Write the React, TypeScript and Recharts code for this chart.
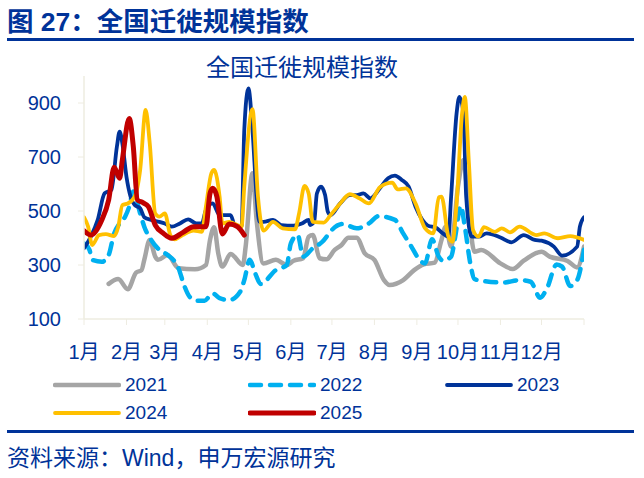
import React from "react";
import { LineChart, Line, XAxis, YAxis } from "recharts";

const INK = "#003399";
const SANS = "'Liberation Sans','Noto Sans CJK SC',sans-serif";

const monthTicks = [0, 31, 59, 90, 120, 151, 181, 212, 243, 273, 304, 334, 365];
const monthLabels = ["1月", "2月", "3月", "4月", "5月", "6月", "7月", "8月", "9月", "10月", "11月", "12月", ""];
const valueTicks = [100, 300, 500, 700, 900];

const days2021 = [18,25,32,38,42,44,48,52,54,61,69,81,89,92,95,98,101,107,116,118,123,126,131,140,148,153,160,164,167,172,177,183,188,193,199,205,212,219,223,233,241,248,256,261,264,268,273,277,281,285,290,304,313,321,334,340,353,360,365];
const values2021 = [230,248,210,272,281,319,393,331,319,337,288,284,300,393,440,343,294,341,300,368,640,467,306,319,300,316,325,405,411,325,321,356,374,401,401,343,319,244,226,244,281,302,309,393,442,368,590,689,491,349,356,306,285,316,349,331,315,291,368];

const days2022 = [0,4,6,13,18,22,26,30,33,36,41,44,49,55,61,69,73,77,82,88,94,99,106,114,117,121,125,129,140,148,151,156,160,167,174,178,181,189,199,208,215,227,233,239,245,249,254,259,262,268,271,275,278,282,285,291,306,318,326,333,338,345,349,355,360,365];
const values2022 = [380,356,319,312,337,417,454,479,516,572,491,442,393,356,337,288,226,183,168,168,195,177,170,201,244,319,269,230,281,300,380,411,331,362,386,411,430,452,436,454,481,467,417,368,319,306,395,331,316,331,405,519,442,306,248,241,235,244,238,179,214,302,294,222,244,356];

const days2023 = [0,5,10,15,20,24,26,28,31,34,37,41,44,49,55,59,64,70,76,82,86,89,94,99,107,110,115,117,120,123,126,128,131,138,144,153,159,164,165,168,170,173,176,178,180,187,194,199,204,209,216,222,227,232,237,242,247,251,257,262,266,268,272,274,277,279,283,288,294,304,312,321,329,334,343,349,360,362,365];
const values2023 = [362,405,467,565,578,738,794,750,627,553,522,510,477,467,460,454,442,454,469,454,454,504,528,485,485,448,442,800,954,800,553,460,460,467,448,446,454,467,448,460,565,590,559,497,485,528,559,559,565,547,584,621,631,615,590,516,467,446,438,417,405,553,862,923,862,553,405,405,417,402,384,411,393,390,368,335,368,442,477];

const days2024 = [0,3,6,11,16,22,25,28,32,37,41,45,48,52,55,59,63,66,72,80,86,89,93,95,99,101,106,115,117,123,127,131,138,145,154,157,161,164,167,175,180,187,194,201,208,216,225,229,235,242,249,255,259,261,266,269,272,276,278,281,284,288,292,300,305,311,318,330,336,346,355,365];
const values2024 = [477,442,374,411,414,407,442,522,528,553,652,874,750,491,479,491,411,395,411,427,423,516,640,652,553,454,460,442,590,877,553,427,460,436,432,491,593,565,460,457,485,528,562,547,528,588,605,580,584,528,436,417,551,553,405,386,528,862,923,676,430,405,440,423,436,421,442,411,417,399,407,393];

const days2025 = [0,5,13,18,22,26,28,33,36,39,43,47,52,58,64,72,80,89,92,94,97,101,106,112,117];
const values2025 = [427,411,467,541,662,621,689,843,738,541,531,516,448,417,399,420,442,442,565,584,553,415,452,442,411];

const toRows = (days: number[], values: number[]) => days.map((day, i) => ({ day, value: values[i] }));

const series = [
  { name: "2021", rows: toRows(days2021, values2021), color: "#A5A5A5", width: 4.5 },
  { name: "2022", rows: toRows(days2022, values2022), color: "#00B0F0", width: 4.5, dash: "11 9" },
  { name: "2023", rows: toRows(days2023, values2023), color: "#003399", width: 3.8 },
  { name: "2024", rows: toRows(days2024, values2024), color: "#FFC000", width: 3.8 },
  { name: "2025", rows: toRows(days2025, values2025), color: "#C00000", width: 5 },
];

const legendSpots: Record<string, { left: number; top: number }> = {
  "2021": { left: 53, top: 385 },
  "2022": { left: 248, top: 385 },
  "2023": { left: 445, top: 385 },
  "2024": { left: 53, top: 413 },
  "2025": { left: 248, top: 413 },
};

const abs = (s: React.CSSProperties): React.CSSProperties => ({ position: "absolute", whiteSpace: "nowrap", fontFamily: SANS, color: INK, ...s });

export default function App() {
  return (
    <div style={{ position: "absolute", left: 0, top: 0, width: 644, height: 478, background: "#fff", overflow: "hidden" }}>
      <div style={abs({ left: 7, top: 6, fontSize: 26.5, lineHeight: "32px", fontWeight: 700 })}>图 27：全国迁徙规模指数</div>
      <div style={abs({ left: 7, top: 38, width: 627, height: 3, background: INK })} />
      <div style={abs({ left: 0, top: 53, width: 604, textAlign: "center", fontSize: 24, lineHeight: "30px" })}>全国迁徙规模指数</div>
      <div style={{ position: "absolute", left: 0, top: 0 }}>
        <LineChart width={644} height={478} margin={{ left: 44, right: 60, top: 76, bottom: 119 }}>
          <XAxis
            type="number"
            dataKey="day"
            domain={[0, 365]}
            ticks={monthTicks}
            interval={0}
            allowDataOverflow
            height={40}
            tickFormatter={(v: number) => monthLabels[monthTicks.indexOf(v)]}
            tick={{ fill: INK, fontSize: 20, fontFamily: SANS }}
            tickLine={{ stroke: "#EEECE1" }}
            axisLine={{ stroke: "#EEECE1", strokeWidth: 1.5 }}
            tickSize={6}
            tickMargin={20}
          />
          <YAxis
            type="number"
            domain={[100, 1000]}
            ticks={valueTicks}
            interval={0}
            width={40}
            tick={{ fill: INK, fontSize: 20, fontFamily: SANS }}
            tickLine={{ stroke: "#EEECE1" }}
            axisLine={{ stroke: "#EEECE1", strokeWidth: 1.5 }}
            tickSize={6}
            tickMargin={17}
          />
          {series.map((s) => (
            <Line
              key={s.name}
              data={s.rows}
              dataKey="value"
              name={s.name}
              type="monotone"
              stroke={s.color}
              strokeWidth={s.width}
              strokeDasharray={s.dash}
              strokeLinecap="round"
              strokeLinejoin="round"
              dot={false}
              activeDot={false}
              isAnimationActive={false}
            />
          ))}
        </LineChart>
      </div>
      {series.map((s) => {
        const p = legendSpots[s.name];
        return (
          <div key={s.name} style={{ position: "absolute", left: p.left, top: p.top - 12, height: 24 }}>
            <svg width={68} height={24} style={{ position: "absolute", left: 0, top: 0 }}>
              <line x1={2} x2={66} y1={12} y2={12} stroke={s.color} strokeWidth={s.width} strokeDasharray={s.dash} strokeLinecap="round" />
            </svg>
            <span style={abs({ left: 72, top: 0, fontSize: 19, lineHeight: "24px" })}>{s.name}</span>
          </div>
        );
      })}
      <div style={abs({ left: 7, top: 430, width: 627, height: 3, background: INK })} />
      <div style={abs({ left: 7, top: 444, fontSize: 23, lineHeight: "28px" })}>资料来源：Wind，申万宏源研究</div>
    </div>
  );
}
